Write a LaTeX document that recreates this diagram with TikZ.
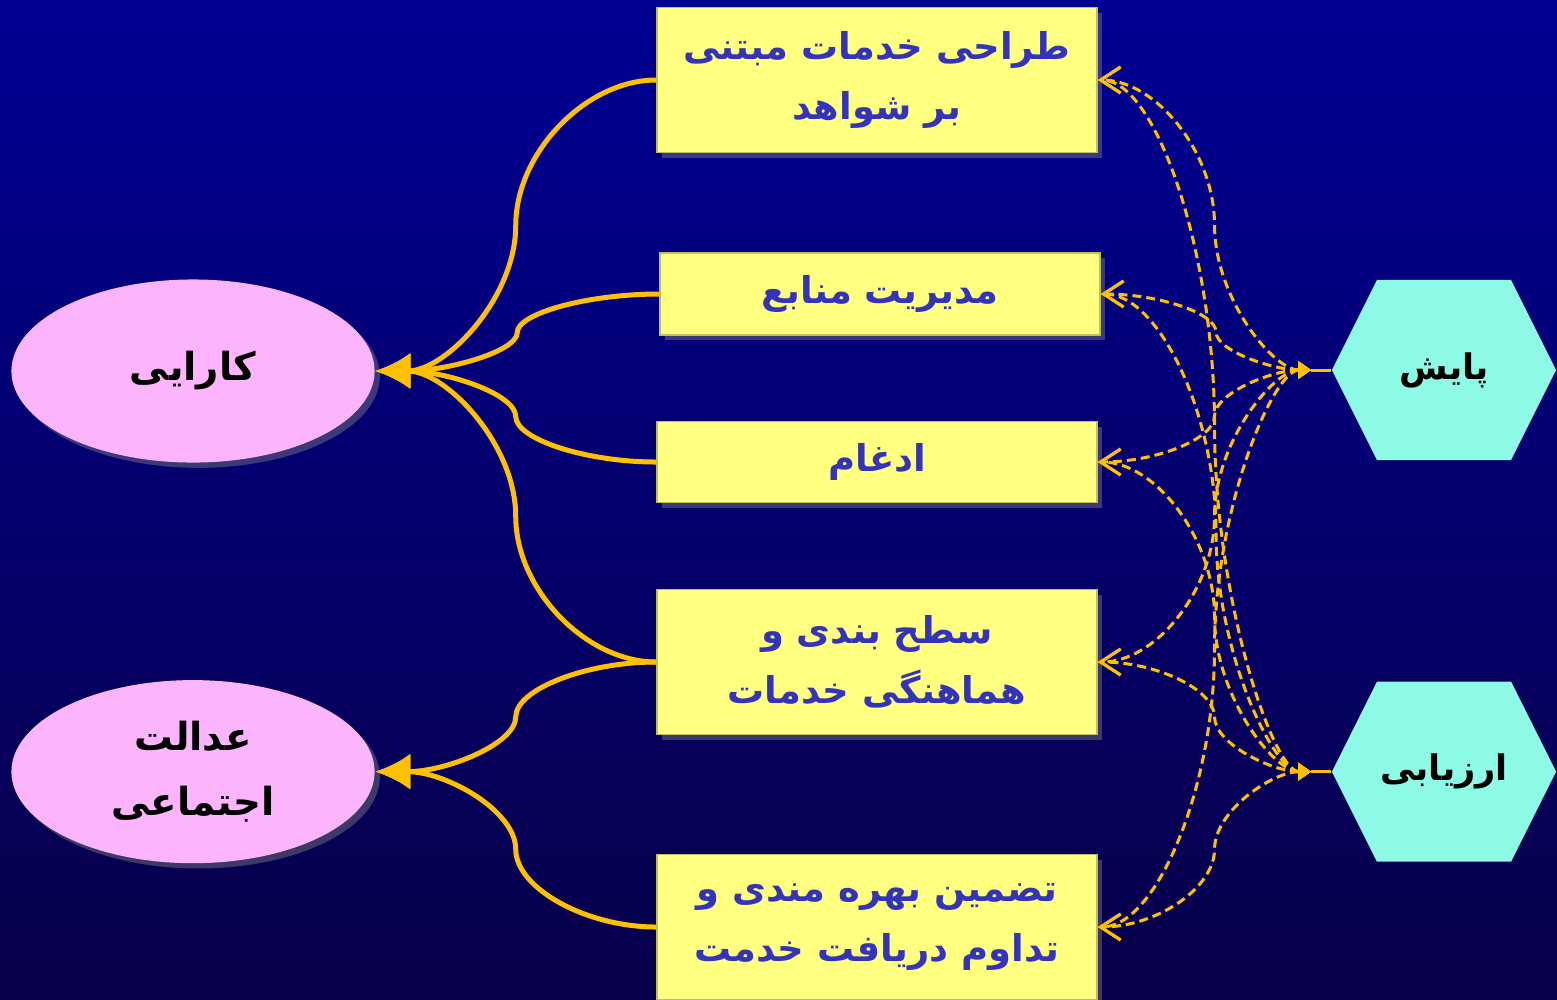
\documentclass[tikz,border=0pt]{standalone}
\usepackage{fontspec}
\usepackage{tikz}
\usetikzlibrary{positioning,calc,arrows.meta,shapes.geometric,shadows}
\TeXXeTstate=1
\newfontfamily\arabicfont[Script=Arabic]{DejaVu Sans}
\newcommand{\faline}[1]{\beginR #1\endR}
\definecolor{bgtop}{RGB}{0,0,148}
\definecolor{bgmid}{RGB}{0,0,128}
\definecolor{bgbot}{RGB}{8,0,72}
\definecolor{boxyellow}{RGB}{255,255,128}
\definecolor{boxtext}{RGB}{51,51,187}
\definecolor{pinkfill}{RGB}{252,180,252}
\definecolor{cyanfill}{RGB}{140,250,228}
\definecolor{linkorange}{RGB}{255,192,0}
\tikzset{>=Latex}
\tikzset{
  curvecon/.style={to path={let \p1=(\tikztostart), \p2=(\tikztotarget) in
    .. controls ({0.75*\x1+0.25*\x2},\y1) and ({0.5*\x1+0.5*\x2},{0.75*\y1+0.25*\y2})
    .. ({0.5*\x1+0.5*\x2},{0.5*\y1+0.5*\y2})
    .. controls ({0.5*\x1+0.5*\x2},{0.25*\y1+0.75*\y2}) and ({0.25*\x1+0.75*\x2},\y2)
    .. (\tikztotarget) \tikztonodes}},
  fabox/.style={rectangle, fill=boxyellow, draw=boxyellow!75!black, line width=0.4pt,
    minimum width=4.4cm, inner sep=0pt, align=center, text=boxtext,
    font=\arabicfont\bfseries\fontsize{10.5}{17}\selectfont,
    drop shadow={opacity=0.45, shadow xshift=1.5pt, shadow yshift=-1.5pt}},
  goal/.style={ellipse, fill=pinkfill, minimum width=3.63cm, minimum height=1.83cm,
    inner sep=0pt, align=center, text=black,
    font=\arabicfont\bfseries\fontsize{11}{18.5}\selectfont,
    drop shadow={opacity=0.45, shadow xshift=1.5pt, shadow yshift=-1.5pt}},
  hexa/.style={rectangle, minimum width=2.24cm, minimum height=1.8cm, inner sep=0pt,
    text=black, font=\arabicfont\bfseries\fontsize{10}{18}\selectfont,
    path picture={\fill[cyanfill] (path picture bounding box.west)
      -- ([xshift=0.45cm]path picture bounding box.north west)
      -- ([xshift=-0.45cm]path picture bounding box.north east)
      -- (path picture bounding box.east)
      -- ([xshift=-0.45cm]path picture bounding box.south east)
      -- ([xshift=0.45cm]path picture bounding box.south west) -- cycle;}},
  feed/.style={line width=0.05cm, linkorange, -{Latex[length=0.35cm,width=0.36cm]}},
  watch/.style={line width=0.03cm, linkorange, dash pattern=on 0.09cm off 0.05cm,
    {Triangle[length=0.13cm,width=0.17cm]}-{Straight Barb[length=0.2cm,width=0.26cm]},
    shorten <=0.2cm},
  stub/.style={line width=0.03cm, linkorange}
}
\begin{document}
\begin{tikzpicture}[x=0.01cm,y=-0.01cm]
  \useasboundingbox (0,0) rectangle (1557,999);
  \shade[top color=bgtop, middle color=bgmid, bottom color=bgbot] (0,0) rectangle (1557,999);
  % the five services
  \node[fabox, minimum height=1.45cm] (b1) at (877,80) {\faline{طراحی خدمات مبتنی}\\\faline{بر شواهد}};
  \node[fabox, minimum height=0.82cm] (b2) at (880,294) {\faline{مدیریت منابع}};
  \node[fabox, minimum height=0.81cm] (b3) at (877,462) {\faline{ادغام}};
  \node[fabox, minimum height=1.45cm] (b4) at (877,662) {\faline{سطح بندی و}\\\faline{هماهنگی خدمات}};
  \node[fabox, minimum height=1.45cm] (b5) at (877,927) {\faline{تضمین بهره مندی و}\\\faline{تداوم دریافت خدمت}};
  % goals
  \node[goal] (k) at (193,371) {\faline{کارایی}};
  \node[goal, below=2.16cm of k] (ad) {\faline{عدالت}\\\faline{اجتماعی}};
  % monitoring and evaluation
  \node[hexa] (pa) at (1444,370) {\faline{پایش}};
  \node[hexa, below=2.2cm of pa] (ar) {\faline{ارزیابی}};
  \foreach \b in {b1,b2,b3,b4}
    \draw[feed] (\b.west) to[curvecon] (k.east);
  \foreach \b in {b4,b5}
    \draw[feed] (\b.west) to[curvecon] (ad.east);
  \foreach \h in {pa,ar}{
    \draw[stub] (\h.west) -- ([xshift=-0.2cm]\h.west);
    \foreach \b in {b1,b2,b3,b4,b5}
      \draw[watch] (\h.west) to[curvecon] (\b.east);
  }
\end{tikzpicture}
\end{document}
